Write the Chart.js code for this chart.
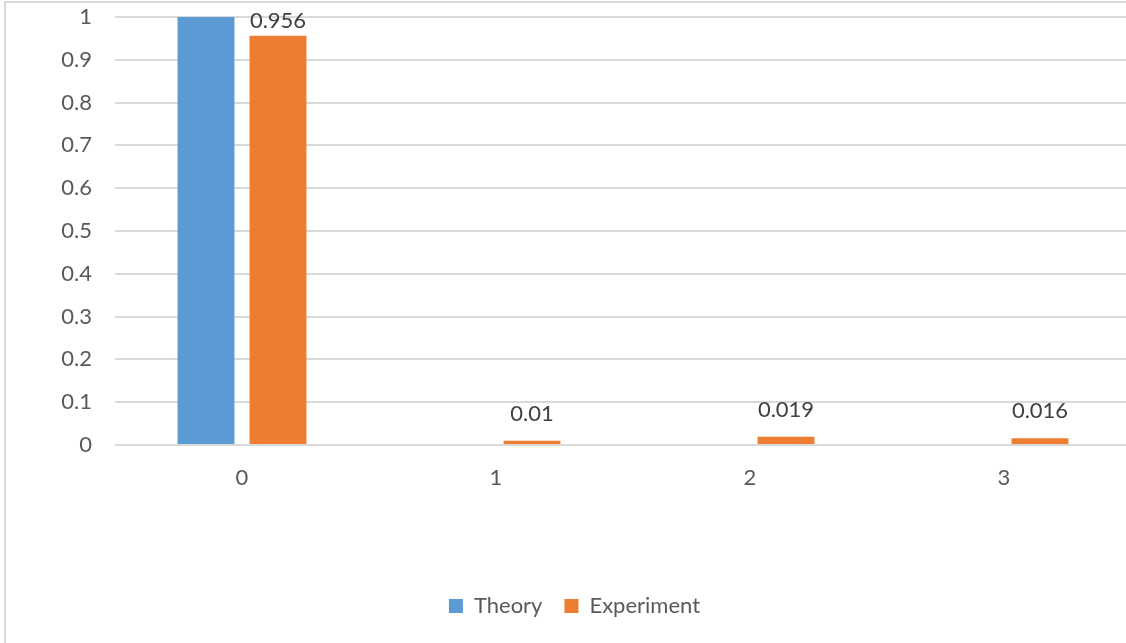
<!DOCTYPE html>
<html>
<head>
<meta charset="utf-8">
<script src="https://cdn.jsdelivr.net/npm/chart.js@4/dist/chart.umd.min.js"></script>
<style>
  html, body { margin: 0; padding: 0; background: #ffffff; overflow: hidden; }
  body { width: 1126px; height: 643px; position: relative; }
  #frame {
    position: absolute; left: 4px; top: 1px; width: 1200px; height: 700px;
    border-left: 2px solid #d9d9d9; border-top: 2px solid #d9d9d9;
    box-sizing: border-box;
  }
  #wrap { position: absolute; left: 0; top: 0; width: 1131px; height: 643px; }
</style>
</head>
<body>
<div id="frame"></div>
<div id="wrap"><canvas id="chart"></canvas></div>
<script>
// Outcome categories and the two series compared at each one
const categories = ['0', '1', '2', '3'];
const theory = [1, 0, 0, 0];
const experiment = [0.956, 0.01, 0.019, 0.016];
const experimentLabels = ['0.956', '0.01', '0.019', '0.016'];
const yTicks = ['0', '0.1', '0.2', '0.3', '0.4', '0.5', '0.6', '0.7', '0.8', '0.9', '1'];

const FONT = 'Lato, Carlito, Calibri, "Open Sans", sans-serif';
const TEXT = '#595959';
const FONT_SIZE = 22;

// Writes the value above each Experiment bar, kept inside the canvas near the top
const barValueLabels = {
  id: 'barValueLabels',
  afterDatasetsDraw(chart) {
    const ctx = chart.ctx;
    const meta = chart.getDatasetMeta(1);
    ctx.save();
    ctx.font = FONT_SIZE + 'px ' + FONT;
    ctx.fillStyle = '#404040';
    ctx.textAlign = 'center';
    ctx.textBaseline = 'middle';
    meta.data.forEach((bar, i) => {
      let y = bar.y - 27;
      if (y < 21) y = 21;
      ctx.fillText(experimentLabels[i], bar.x, y);
    });
    ctx.restore();
  }
};

// Nudges the legend so it sits centred under the visible part of the plot
const legendNudge = {
  id: 'legendNudge',
  afterLayout(chart) {
    if (chart.legend) {
      chart.legend.left += 9;
      chart.legend.right += 9;
    }
  }
};

new Chart(document.getElementById('chart'), {
  type: 'bar',
  data: {
    labels: categories,
    datasets: [
      { label: 'Theory', data: theory, backgroundColor: '#5b9bd5',
        barPercentage: 0.79, categoryPercentage: 0.567 },
      { label: 'Experiment', data: experiment, backgroundColor: '#ed7d31',
        barPercentage: 0.79, categoryPercentage: 0.567 }
    ]
  },
  options: {
    responsive: true,
    maintainAspectRatio: false,
    animation: false,
    layout: { padding: { top: 17, left: 0, right: 0, bottom: 16 } },
    plugins: {
      tooltip: { enabled: false },
      legend: {
        position: 'bottom',
        labels: {
          boxWidth: 14, boxHeight: 14, padding: 22,
          color: TEXT,
          font: { family: FONT, size: FONT_SIZE }
        }
      }
    },
    scales: {
      x: {
        grid: { display: false, drawTicks: false },
        border: { display: false },
        ticks: { color: TEXT, padding: 20, font: { family: FONT, size: FONT_SIZE } },
        afterFit(scale) { scale.height = 128; }
      },
      y: {
        min: 0, max: 1,
        grid: { color: '#d9d9d9', lineWidth: 2, drawTicks: false },
        border: { display: false },
        ticks: {
          stepSize: 0.1,
          color: TEXT,
          padding: 23,
          font: { family: FONT, size: FONT_SIZE },
          callback: (v, i) => yTicks[i]
        },
        afterFit(scale) {
          scale.width = 115;
          scale.paddingTop = 0;
          scale.paddingBottom = 0;
        }
      }
    }
  },
  plugins: [barValueLabels, legendNudge]
});
</script>
</body>
</html>
